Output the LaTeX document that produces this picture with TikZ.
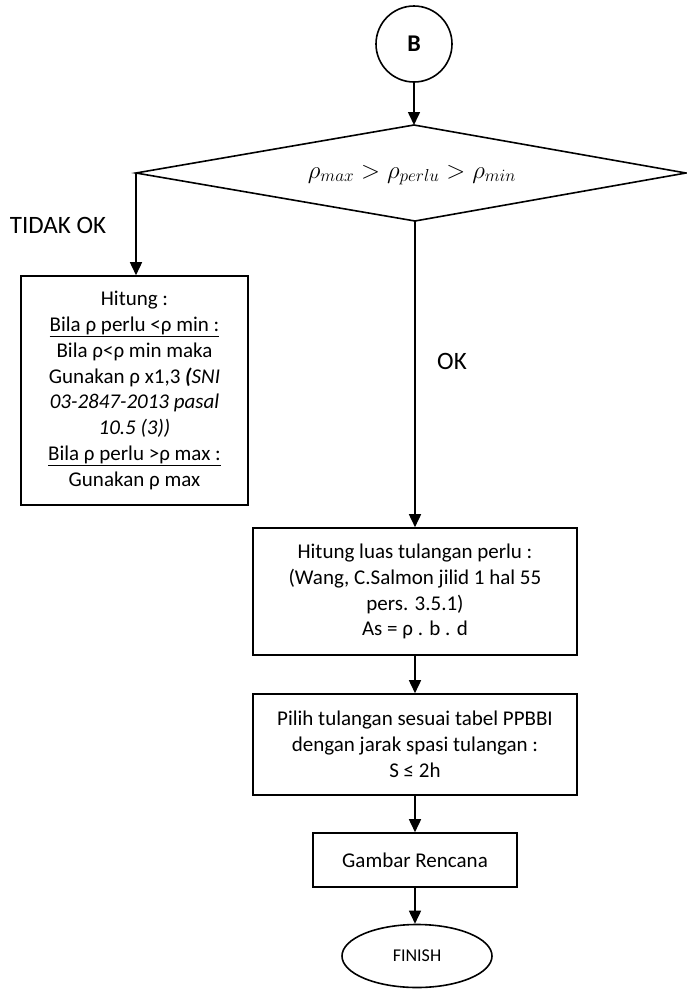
\documentclass[tikz,border=0pt]{standalone}
\usepackage{fontspec}
\setmainfont{Carlito}
\usetikzlibrary{shapes.geometric,arrows.meta}
\begin{document}
\begin{tikzpicture}[x=1pt,y=-1pt,
  every node/.style={font=\fontsize{21}{25.8}\selectfont},
  box/.style={draw,line width=1.6pt,rectangle,inner sep=0pt,align=center},
  conn/.style={line width=1.6pt,-{Triangle[length=13pt,width=12pt]}},
  lbl/.style={font=\fontsize{25}{30}\selectfont}]
\useasboundingbox[fill=white] (0,0) rectangle (687,989);

% start connector
\node[draw,circle,line width=1.6pt,minimum size=76pt,inner sep=0pt,
      font=\fontsize{24}{28}\selectfont\bfseries] (start) at (414,44) {B};

% decision: corner points of the diamond and its condition
\coordinate (dL) at (136,173);
\coordinate (dT) at (414,125);
\coordinate (dR) at (686,173);
\coordinate (dB) at (415,221);
\draw[line width=1.6pt,line join=miter] (dL) -- (dT) -- (dR) -- (dB) -- cycle;
\node[font=\fontsize{23}{27}\selectfont] (cond) at (412,175)
  {$\rho_{max} > \rho_{perlu} > \rho_{min}$};

% left branch: correction of the reinforcement ratio
\node[box,minimum width=227pt,minimum height=229pt] (hitung) at (134.5,390.5)
  {Hitung :\\
   \underline{Bila ρ perlu <ρ min :}\\
   Bila ρ<ρ min maka\\
   Gunakan ρ x1,3 \textbf{\textit{(}}\textit{SNI}\\
   \textit{03-2847-2013 pasal}\\
   \textit{10.5 (3))}\\
   \underline{Bila ρ perlu >ρ max :}\\
   Gunakan ρ max};

% main column
\node[box,minimum width=324pt,minimum height=127pt] (luas) at (415,591.5)
  {Hitung luas tulangan perlu :\\
   (Wang, C.Salmon jilid 1 hal 55\\
   pers. 3.5.1)\\
   As = ρ . b . d};

\node[box,minimum width=324pt,minimum height=101pt] (pilih) at (415,744.5)
  {Pilih tulangan sesuai tabel PPBBI\\
   dengan jarak spasi tulangan :\\
   S ≤ 2h};

\node[box,minimum width=204pt,minimum height=54pt] (gambar) at (415,860)
  {Gambar Rencana};

\node[draw,ellipse,line width=1.6pt,minimum width=150pt,minimum height=63pt,
      inner sep=0pt,font=\fontsize{18}{22}\selectfont] (finish) at (417,956) {FINISH};

% branch labels
\node[lbl] (tidak) at (58,225) {TIDAK OK};
\node[lbl] (ok) at (452,361) {OK};

% connectors
\draw[conn] (start.south) -- (dT);
\draw[conn] (dL) -- (dL |- hitung.north);
\draw[conn] (dB) -- (luas.north);
\draw[conn] (luas.south) -- (pilih.north);
\draw[conn] (pilih.south) -- (gambar.north);
\draw[conn] (gambar.south) -- (finish.north -| gambar.south);
\end{tikzpicture}
\end{document}
